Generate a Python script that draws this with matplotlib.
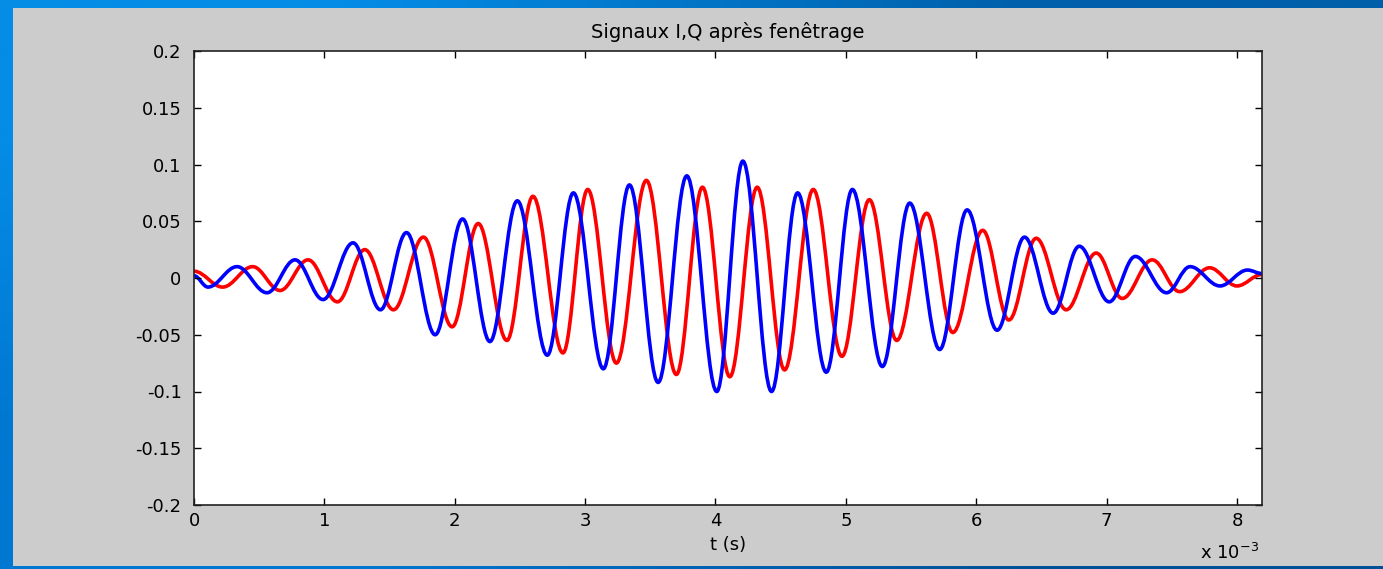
import numpy as np
import matplotlib
matplotlib.use('Agg')
import matplotlib.pyplot as plt
from matplotlib.patches import Rectangle, PathPatch
from matplotlib.path import Path
from matplotlib.ticker import FuncFormatter

# Signal I (rouge) : extrema, t en ms
t_i = [0.0, 0.22, 0.45, 0.66, 0.875, 1.10, 1.31, 1.53, 1.76, 1.98,
       2.18, 2.40, 2.60, 2.83, 3.02, 3.24, 3.47, 3.70, 3.90, 4.11,
       4.32, 4.53, 4.75, 4.97, 5.18, 5.39, 5.62, 5.82, 6.05, 6.25,
       6.46, 6.69, 6.92, 7.12, 7.35, 7.56, 7.79, 8.00, 8.19]
sig_i = [0.006, -0.008, 0.010, -0.011, 0.016, -0.021, 0.025, -0.028, 0.036, -0.043,
         0.048, -0.055, 0.072, -0.066, 0.078, -0.075, 0.086, -0.085, 0.080, -0.087,
         0.080, -0.081, 0.078, -0.069, 0.069, -0.055, 0.057, -0.048, 0.042, -0.037,
         0.035, -0.028, 0.022, -0.018, 0.016, -0.012, 0.009, -0.007, 0.003]

# Signal Q (bleu)
t_q = [0.0, 0.107, 0.33, 0.56, 0.775, 0.99, 1.22, 1.43, 1.63, 1.85,
       2.06, 2.27, 2.48, 2.71, 2.91, 3.14, 3.34, 3.56, 3.78, 4.01,
       4.21, 4.43, 4.63, 4.85, 5.05, 5.28, 5.49, 5.72, 5.93, 6.16,
       6.37, 6.59, 6.79, 7.02, 7.22, 7.46, 7.64, 7.87, 8.08, 8.19]
sig_q = [0.002, -0.008, 0.010, -0.013, 0.016, -0.019, 0.031, -0.028, 0.040, -0.050,
         0.052, -0.056, 0.068, -0.068, 0.075, -0.080, 0.082, -0.092, 0.090, -0.100,
         0.103, -0.100, 0.075, -0.083, 0.078, -0.078, 0.066, -0.063, 0.060, -0.046,
         0.036, -0.031, 0.028, -0.021, 0.019, -0.013, 0.010, -0.007, 0.007, 0.004]

x_ticks = [0, 1, 2, 3, 4, 5, 6, 7, 8]
y_ticks = [-0.2, -0.15, -0.1, -0.05, 0, 0.05, 0.1, 0.15, 0.2]
y_labels = ['-0.2', '-0.15', '-0.1', '-0.05', '0', '0.05', '0.1', '0.15', '0.2']

W, H = 1383, 569


def smooth_path(t, y):
    """Bezier entre extrema (tangentes horizontales aux crêtes)"""
    t = np.array(t) * 1e-3
    verts = [(t[0], y[0])]
    codes = [Path.MOVETO]
    for k in range(1, len(t)):
        dt = t[k] - t[k - 1]
        verts += [(t[k - 1] + 0.364 * dt, y[k - 1]),
                  (t[k] - 0.364 * dt, y[k]),
                  (t[k], y[k])]
        codes += [Path.CURVE4] * 3
    return Path(verts, codes)


fig = plt.figure(figsize=(W / 100, H / 100), dpi=100)

# fond : dégradé bleu + panneau gris
bg = fig.add_axes([0, 0, 1, 1], zorder=0)
grad = np.array([[[5, 140, 230], [0, 95, 170]],
                 [[0, 120, 210], [0, 80, 150]]], dtype=float) / 255
bg.imshow(grad, extent=[0, W, H, 0], aspect='auto', interpolation='bilinear')
bg.add_patch(Rectangle((13, 8), W - 13, 558, facecolor='#cccccc', edgecolor='none'))
bg.set_xlim(0, W)
bg.set_ylim(H, 0)
bg.axis('off')

ax = fig.add_axes([194 / W, 1 - 505 / H, (1262 - 194) / W, (505 - 51) / H], zorder=1)
ax.set_facecolor('white')

ax.add_patch(PathPatch(smooth_path(t_i, sig_i), fill=False, edgecolor='red',
                       lw=2.6, joinstyle='round'))
ax.add_patch(PathPatch(smooth_path(t_q, sig_q), fill=False, edgecolor='blue',
                       lw=2.6, joinstyle='round'))

ax.set_xlim(0, 8.192e-3)
ax.set_ylim(-0.2, 0.2)
ax.set_xticks(np.array(x_ticks) * 1e-3)
ax.xaxis.set_major_formatter(FuncFormatter(lambda v, p: f"{v * 1e3:g}"))
ax.set_yticks(y_ticks)
ax.set_yticklabels(y_labels)
ax.tick_params(direction='in', top=True, right=True, length=5, width=1,
               labelsize=13, colors='black')
ax.tick_params(axis='y', pad=9)
ax.tick_params(axis='x', pad=5)
for s in ax.spines.values():
    s.set_linewidth(1.2)
    s.set_color('#222222')

ax.set_title('Signaux I,Q après fenêtrage', fontsize=14, pad=9)
ax.set_xlabel('t (s)', fontsize=13)
ax.xaxis.set_label_coords(0.5, -0.068)
ax.text(0.997, -0.118, 'x 10$^{-3}$', transform=ax.transAxes, ha='right',
        va='baseline', fontsize=13)

fig.savefig('out.png', dpi=100)
